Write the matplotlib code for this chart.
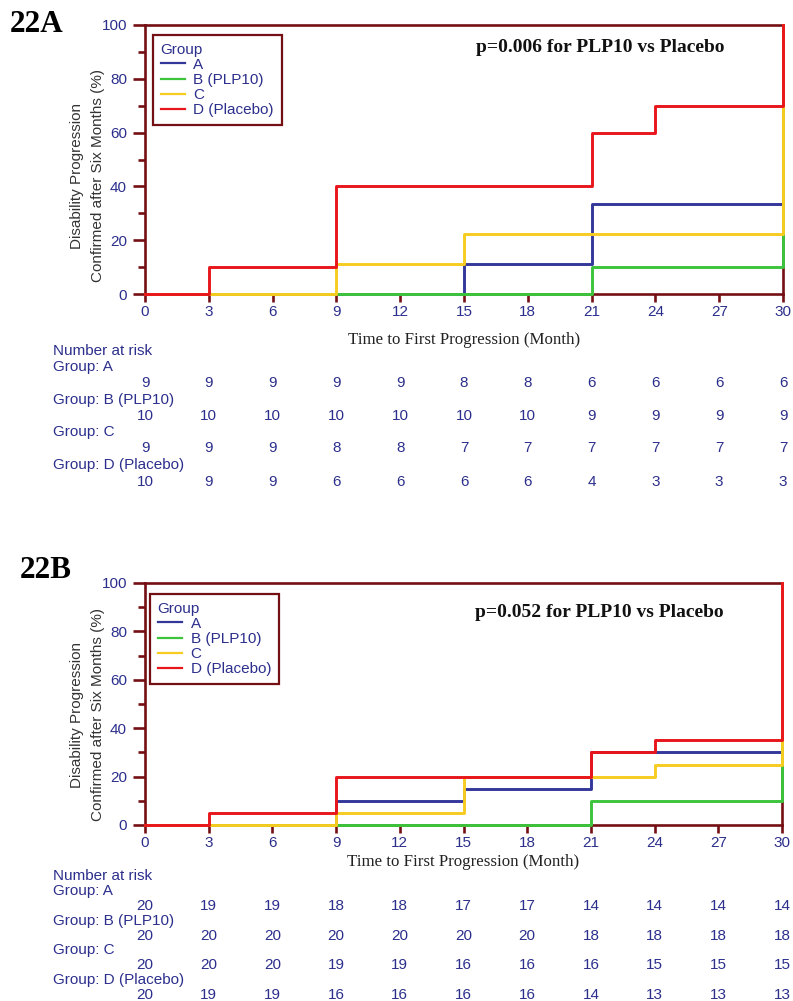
import matplotlib
matplotlib.use("Agg")
import matplotlib.pyplot as plt
from matplotlib import transforms
from matplotlib.lines import Line2D
from matplotlib.ticker import MultipleLocator

# ---- data -------------------------------------------------------------
months = [0, 3, 6, 9, 12, 15, 18, 21, 24, 27, 30]
groups = ["A", "B (PLP10)", "C", "D (Placebo)"]
group_colors = ["#34379a", "#3cc43c", "#f7cc20", "#e8151b"]

# panel 22A: cumulative progression (%) step curves
a_times_A = [0, 15, 21, 30]
a_pct_A = [0, 11.1, 33.3, 100]
a_times_B = [0, 21, 30]
a_pct_B = [0, 10, 100]
a_times_C = [0, 9, 15, 30]
a_pct_C = [0, 11.1, 22.2, 100]
a_times_D = [0, 3, 9, 21, 24, 30]
a_pct_D = [0, 10, 40, 60, 70, 100]

a_risk_A = [9, 9, 9, 9, 9, 8, 8, 6, 6, 6, 6]
a_risk_B = [10, 10, 10, 10, 10, 10, 10, 9, 9, 9, 9]
a_risk_C = [9, 9, 9, 8, 8, 7, 7, 7, 7, 7, 7]
a_risk_D = [10, 9, 9, 6, 6, 6, 6, 4, 3, 3, 3]

# panel 22B
b_times_A = [0, 9, 15, 21, 30]
b_pct_A = [0, 10, 15, 30, 100]
b_times_B = [0, 21, 30]
b_pct_B = [0, 10, 100]
b_times_C = [0, 9, 15, 24, 30]
b_pct_C = [0, 5, 20, 25, 100]
b_times_D = [0, 3, 9, 21, 24, 30]
b_pct_D = [0, 5, 20, 30, 35, 100]

b_risk_A = [20, 19, 19, 18, 18, 17, 17, 14, 14, 14, 14]
b_risk_B = [20, 20, 20, 20, 20, 20, 20, 18, 18, 18, 18]
b_risk_C = [20, 20, 20, 19, 19, 16, 16, 16, 15, 15, 15]
b_risk_D = [20, 19, 19, 16, 16, 16, 16, 14, 13, 13, 13]

# ---- styling ----------------------------------------------------------
W, H = 793, 1001
MAROON = "#741014"
NAVY = "#2c2f8c"
SANS = ["Liberation Sans", "DejaVu Sans"]
SERIF = ["Liberation Serif", "DejaVu Serif"]
FS = 11

fig = plt.figure(figsize=(W / 100, H / 100), dpi=100)


def fx(px):
    return px / W


def fy(py):
    return 1 - py / H


def panel(rect_px, curves, risks, pval, tag, tag_xy, legend_anchor,
          ylabel_y, xlabel_y, risk_rows_y):
    left, top, right, bottom = rect_px
    ax = fig.add_axes([fx(left), fy(bottom), fx(right - left), (bottom - top) / H])
    ax.set_xlim(0, 30)
    ax.set_ylim(0, 100)
    for (t, p), c in zip(curves, group_colors):
        ax.step(t, p, where="post", color=c, lw=2.1, zorder=3, clip_on=False)

    for side in ["left", "bottom", "top", "right"]:
        ax.spines[side].set_color(MAROON)
        ax.spines[side].set_linewidth(1.9)
        ax.spines[side].set_zorder(2.5)

    ax.set_xticks(months)
    ax.set_yticks(range(0, 101, 20))
    ax.yaxis.set_minor_locator(MultipleLocator(10))
    ax.tick_params(axis="x", direction="out", length=6, width=1.9,
                   color=MAROON, labelcolor=NAVY, labelsize=FS, pad=2)
    ax.tick_params(axis="y", which="major", direction="out", length=9, width=1.9,
                   color=MAROON, labelcolor=NAVY, labelsize=FS, pad=4)
    ax.tick_params(axis="y", which="minor", direction="out", length=5, width=1.9,
                   color=MAROON)
    for lab in ax.get_xticklabels() + ax.get_yticklabels():
        lab.set_fontfamily(SANS)

    ax.set_ylabel("Disability Progression\nConfirmed after Six Months (%)",
                  fontsize=11, color="#333333", family=SANS, linespacing=1.6)
    ax.yaxis.set_label_coords((105 - left) / (right - left), ylabel_y)
    ax.set_xlabel("Time to First Progression (Month)", fontsize=12.2,
                  color="#222222", family=SERIF)
    ax.xaxis.set_label_coords(0.5, (bottom - xlabel_y) / (bottom - top))
    ax.xaxis.label.set_va("center")

    ax.text(21.4, pval[1], pval[0], fontsize=14, fontweight="bold",
            family=SERIF, ha="center", va="center", color="#111111")

    handles = [Line2D([], [], color=c, lw=1.6) for c in group_colors]
    leg = ax.legend(handles, groups, title="Group", loc="upper left",
                    bbox_to_anchor=legend_anchor, fontsize=FS,
                    title_fontsize=FS, alignment="left", fancybox=False,
                    framealpha=1, edgecolor=MAROON, handlelength=1.6,
                    handletextpad=0.55, labelspacing=0.08, borderpad=0.5,
                    borderaxespad=0.0, prop={"family": SANS, "size": FS})
    leg.get_frame().set_linewidth(1.6)
    leg.get_title().set_color(NAVY)
    leg.get_title().set_fontfamily(SANS)
    for txt in leg.get_texts():
        txt.set_color(NAVY)

    fig.text(fx(tag_xy[0]), fy(tag_xy[1]), tag, fontsize=22.5, fontweight="bold",
             family=SERIF, ha="left", va="center", color="black")

    # number-at-risk table
    trans = transforms.blended_transform_factory(ax.transData, fig.transFigure)
    fig.text(fx(53), fy(risk_rows_y[0]), "Number at risk", fontsize=FS,
             family=SANS, color=NAVY, ha="left", va="center")
    for i, (name, counts) in enumerate(zip(groups, risks)):
        fig.text(fx(53), fy(risk_rows_y[1 + 2 * i]), f"Group: {name}",
                 fontsize=FS, family=SANS, color=NAVY, ha="left", va="center")
        for m, n in zip(months, counts):
            ax.text(m, fy(risk_rows_y[2 + 2 * i]), str(n), transform=trans,
                    fontsize=FS, family=SANS, color=NAVY,
                    ha="center", va="center")
    return ax


panel((145, 25, 783, 294),
      [(a_times_A, a_pct_A), (a_times_B, a_pct_B),
       (a_times_C, a_pct_C), (a_times_D, a_pct_D)],
      [a_risk_A, a_risk_B, a_risk_C, a_risk_D],
      ("p=0.006 for PLP10 vs Placebo", 91.5), "22A", (10, 24),
      (0.0125, 0.963), 0.44, 340,
      [351, 367, 383, 400, 416, 432, 448, 465, 482])

panel((145, 583, 782, 825),
      [(b_times_A, b_pct_A), (b_times_B, b_pct_B),
       (b_times_C, b_pct_C), (b_times_D, b_pct_D)],
      [b_risk_A, b_risk_B, b_risk_C, b_risk_D],
      ("p=0.052 for PLP10 vs Placebo", 88), "22B", (20, 571),
      (0.008, 0.955), 0.455, 862,
      [876, 891, 906, 921, 936, 950, 965, 980, 995])

fig.savefig("out.png", dpi=100)
